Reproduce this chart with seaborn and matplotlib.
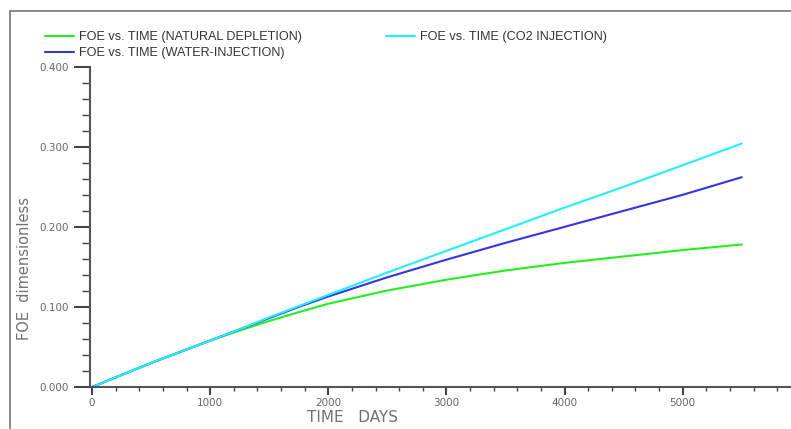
import numpy as np
import pandas as pd
import matplotlib
matplotlib.use("Agg")
import matplotlib.pyplot as plt
from matplotlib.lines import Line2D
from matplotlib.ticker import MultipleLocator, FormatStrFormatter
import seaborn as sns

days = [0, 250, 500, 750, 1000, 1250, 1500, 1750, 2000, 2500, 3000, 3500, 4000, 4500, 5000, 5500]
foe_natural = [0, 0.015, 0.030, 0.044, 0.058, 0.0705, 0.0825, 0.0935, 0.104, 0.1205, 0.134, 0.1455, 0.155, 0.163, 0.171, 0.178]
foe_water = [0, 0.015, 0.030, 0.044, 0.058, 0.072, 0.086, 0.100, 0.113, 0.137, 0.159, 0.180, 0.200, 0.220, 0.240, 0.262]
foe_co2 = [0, 0.015, 0.030, 0.044, 0.058, 0.072, 0.087, 0.101, 0.115, 0.143, 0.170, 0.197, 0.224, 0.250, 0.277, 0.304]

labels = ["FOE vs. TIME (NATURAL DEPLETION)", "FOE vs. TIME (WATER-INJECTION)", "FOE vs. TIME (CO2 INJECTION)"]
colors = ["#22ee22", "#3434e6", "#22eeff"]

df = pd.concat([
    pd.DataFrame({"days": days, "foe": foe_natural, "series": labels[0]}),
    pd.DataFrame({"days": days, "foe": foe_water, "series": labels[1]}),
    pd.DataFrame({"days": days, "foe": foe_co2, "series": labels[2]}),
])

sns.set_style("white")
plt.rcParams['font.family'] = ['Liberation Sans', 'DejaVu Sans']

fig = plt.figure(figsize=(7.91, 4.29), dpi=100)
ax = fig.add_axes([90/791, 1 - 387/429, 1 - 90/791, (387 - 66.7)/429])

sns.lineplot(data=df, x="days", y="foe", hue="series", hue_order=labels,
             palette=colors, ax=ax, linewidth=1.5, legend=False, sort=False)

ax.set_xlim(-17, 5917)
ax.set_ylim(0, 0.4)
ax.xaxis.set_major_locator(MultipleLocator(1000))
ax.xaxis.set_minor_locator(MultipleLocator(200))
ax.yaxis.set_major_locator(MultipleLocator(0.1))
ax.yaxis.set_minor_locator(MultipleLocator(0.02))
ax.yaxis.set_major_formatter(FormatStrFormatter("%.3f"))

for s in ["top", "right"]:
    ax.spines[s].set_visible(False)
for s in ["left", "bottom"]:
    ax.spines[s].set_color("#555555")
    ax.spines[s].set_linewidth(1.5)

ax.tick_params(axis="y", which="major", direction="out", length=11.5, width=1.5, color="#444444",
               left=True, pad=4, labelsize=7.5, labelcolor="#666666")
ax.tick_params(axis="y", which="minor", direction="out", length=5.8, width=1.0, color="#444444", left=True)
ax.tick_params(axis="x", which="major", direction="out", length=5.8, width=1.5, color="#444444",
               bottom=True, pad=2, labelsize=7.5, labelcolor="#666666")
ax.tick_params(axis="x", which="minor", direction="out", length=3, width=1.0, color="#444444", bottom=True)
for lab in ax.get_xticklabels() + ax.get_yticklabels():
    lab.set_family("DejaVu Sans")

ax.set_xlabel("")
ax.set_ylabel("")
fig.text(307/791, 1 - 417/429, "TIME   DAYS", ha="left", va="center",
         fontsize=11, color="#707070", family="DejaVu Sans")
fig.text(25/791, 1 - 269/429, "FOE  dimensionless", ha="center", va="center", rotation=90,
         fontsize=10.5, color="#707070", family="DejaVu Sans")

handles = [Line2D([], [], color=c, lw=1.5) for c in colors]
fig.legend(handles, labels, ncol=2, loc="upper left", bbox_to_anchor=(45/791, 1 - 31/429),
           frameon=False, fontsize=9.1, handlelength=2.3, handletextpad=0.4,
           columnspacing=6.6, labelspacing=0.35, borderaxespad=0, borderpad=0)
for t in fig.legends[0].get_texts():
    t.set_color("#333333")

# outer frame (top and left edges)
fig.add_artist(Line2D([10/791, 10/791], [0, 1 - 11/429], color="#777777", lw=1.2, transform=fig.transFigure))
fig.add_artist(Line2D([10/791, 1], [1 - 11/429, 1 - 11/429], color="#777777", lw=1.2, transform=fig.transFigure))

fig.savefig("out.png", dpi=100)
